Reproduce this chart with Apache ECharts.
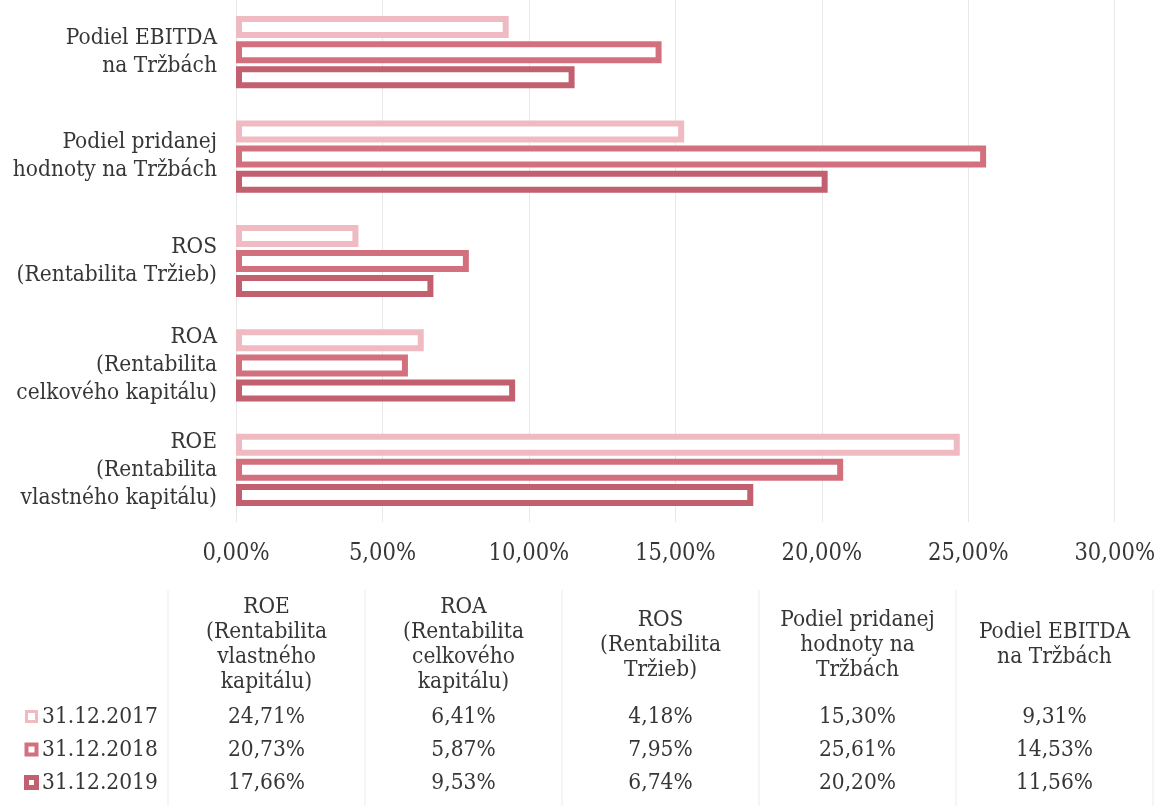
<!DOCTYPE html>
<html>
<head>
<meta charset="utf-8">
<script src="https://cdn.jsdelivr.net/npm/echarts@6/dist/echarts.min.js"></script>
<style>
html,body{margin:0;padding:0;background:#fff;}
#chart{width:1158px;height:806px;}
</style>
</head>
<body>
<div id="chart"></div>
<script>
// Categories (bottom to top on the y axis)
const categories = [
  'ROE\n(Rentabilita\nvlastného kapitálu)',
  'ROA\n(Rentabilita\ncelkového kapitálu)',
  'ROS\n(Rentabilita Tržieb)',
  'Podiel pridanej\nhodnoty na Tržbách',
  'Podiel EBITDA\nna Tržbách'
];
// Table column headers (same order as categories)
const tableHeaders = [
  'ROE\n(Rentabilita\nvlastného\nkapitálu)',
  'ROA\n(Rentabilita\ncelkového\nkapitálu)',
  'ROS\n(Rentabilita\nTržieb)',
  'Podiel pridanej\nhodnoty na\nTržbách',
  'Podiel EBITDA\nna Tržbách'
];
const seriesNames = ['31.12.2017', '31.12.2018', '31.12.2019'];
const values2017 = [24.71, 6.41, 4.18, 15.30, 9.31];
const values2018 = [20.73, 5.87, 7.95, 25.61, 14.53];
const values2019 = [17.66, 9.53, 6.74, 20.20, 11.56];
const xTicks = [0, 5, 10, 15, 20, 25, 30];

const colors = ['#efbac1', '#d3707e', '#c2606f'];
const FONT = "'DejaVu Serif Condensed', 'Liberation Serif', serif";
const TXT = '#363636';
const fmt = v => v.toFixed(2).replace('.', ',') + '%';

const allValues = [values2017, values2018, values2019];

const chart = echarts.init(document.getElementById('chart'));

const series = seriesNames.map((name, i) => ({
  name: name,
  type: 'bar',
  data: allValues[i],
  barWidth: 22,
  barGap: '14%',
  itemStyle: { color: '#ffffff', borderColor: colors[i], borderWidth: 6 },
  emphasis: { disabled: true },
  animation: false
}));

// Table graphics
const graphics = [];
const colLeft = 168, colW = 197;
for (let c = 0; c <= 5; c++) {
  graphics.push({
    type: 'line',
    shape: { x1: colLeft + c * colW, y1: 590, x2: colLeft + c * colW, y2: 806 },
    style: { stroke: '#ececec', lineWidth: 1 }
  });
}
tableHeaders.forEach((h, c) => {
  graphics.push({
    type: 'text',
    x: colLeft + c * colW + colW / 2,
    y: 645,
    style: {
      text: h, font: '22.5px ' + FONT, fill: TXT,
      align: 'center', verticalAlign: 'middle', lineHeight: 25
    }
  });
});
const rowY = [717, 750, 783];
seriesNames.forEach((name, r) => {
  graphics.push({
    type: 'rect',
    shape: { x: 26.5, y: rowY[r] - 5.5, width: 10, height: 10 },
    style: { fill: '#fff', stroke: colors[r], lineWidth: 3 + r }
  });
  graphics.push({
    type: 'text',
    x: 42, y: rowY[r],
    style: { text: name, font: '22.5px ' + FONT, fill: TXT, align: 'left', verticalAlign: 'middle' }
  });
  allValues[r].forEach((v, c) => {
    graphics.push({
      type: 'text',
      x: colLeft + c * colW + colW / 2, y: rowY[r],
      style: { text: fmt(v), font: '22.5px ' + FONT, fill: TXT, align: 'center', verticalAlign: 'middle' }
    });
  });
});

chart.setOption({
  animation: false,
  backgroundColor: '#ffffff',
  grid: { left: 236, right: 37, top: 0, height: 522, containLabel: false },
  xAxis: {
    type: 'value',
    min: 0, max: 30, interval: 5,
    axisLine: { show: false },
    axisTick: { show: false },
    splitLine: { show: true, lineStyle: { color: '#e8e8e8', width: 1 } },
    axisLabel: {
      formatter: v => fmt(v),
      fontFamily: FONT, fontSize: 23.5, color: TXT, margin: 20
    }
  },
  yAxis: {
    type: 'category',
    data: categories,
    axisLine: { show: false },
    axisTick: { show: false },
    axisLabel: {
      fontFamily: FONT, fontSize: 22.5, color: TXT, lineHeight: 28, margin: 19, align: 'right'
    }
  },
  series: series,
  graphic: graphics
});
</script>
</body>
</html>
